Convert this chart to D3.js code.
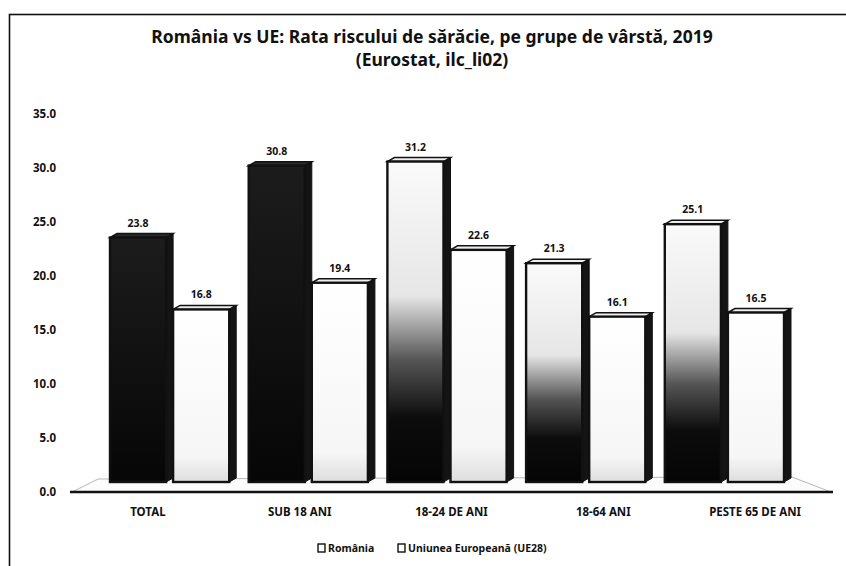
<html>
<meta charset="utf-8" />
<head>
<title>România vs UE: Rata riscului de sărăcie</title>
<script src="https://cdn.jsdelivr.net/npm/d3@7/dist/d3.min.js"></script>
<style>
	body { margin: 0; background: #fff; }
	text { font-family: "Noto Sans", sans-serif; font-weight: bold; fill: #111; }
</style>
<script>
const categories = ["TOTAL", "SUB 18 ANI", "18-24 DE ANI", "18-64 ANI", "PESTE 65 DE ANI"];
const romania = [23.8, 30.8, 31.2, 21.3, 25.1];
const ue28 = [16.8, 19.4, 22.6, 16.1, 16.5];
const seriesNames = ["România", "Uniunea Europeană (UE28)"];
const yTicks = [0, 5, 10, 15, 20, 25, 30, 35];

window.onload = function() {
	const svg = d3.select('svg');

	// rama graficului
	svg.append('rect')
		.attr('x', 9.5).attr('y', 14.5)
		.attr('width', 900).attr('height', 600)
		.style('fill', 'none').style('stroke', '#111').style('stroke-width', 1.6);

	// titlu
	svg.append('text').attr('x', 432).attr('y', 43).attr('text-anchor', 'middle')
		.style('font-size', '17.5px')
		.text('România vs UE: Rata riscului de sărăcie, pe grupe de vârstă, 2019');
	svg.append('text').attr('x', 432).attr('y', 66).attr('text-anchor', 'middle')
		.style('font-size', '17.5px')
		.text('(Eurostat, ilc_li02)');

	// scala axei (planul frontal) si scala barelor (perspectiva 3D)
	let yAxis = d3.scaleLinear().domain([0, 35]).range([492, 114]);
	let yBar = d3.scaleLinear().domain([0, 35]).range([482, 122.5]);
	let xLabel = d3.scaleBand().domain(categories).range([72, 831]);
	let xBar = d3.scaleBand().domain(categories).range([110, 791]).paddingInner(0.09).paddingOuter(0.0);
	let xSub = d3.scaleBand().domain([0, 1]).range([0, xBar.bandwidth()]);

	// gradienti
	let defs = svg.append('defs');
	let gDark = defs.append('linearGradient').attr('id', 'romDark').attr('x1', 0).attr('y1', 0).attr('x2', 0).attr('y2', 1);
	gDark.append('stop').attr('offset', '0%').attr('stop-color', '#1c1c1c');
	gDark.append('stop').attr('offset', '100%').attr('stop-color', '#060606');
	let gFade = defs.append('linearGradient').attr('id', 'romFade').attr('x1', 0).attr('y1', 0).attr('x2', 0).attr('y2', 1);
	gFade.append('stop').attr('offset', '0%').attr('stop-color', '#fafafa');
	gFade.append('stop').attr('offset', '42%').attr('stop-color', '#e6e6e6');
	gFade.append('stop').attr('offset', '62%').attr('stop-color', '#555');
	gFade.append('stop').attr('offset', '80%').attr('stop-color', '#0c0c0c');
	gFade.append('stop').attr('offset', '100%').attr('stop-color', '#050505');
	let gEu = defs.append('linearGradient').attr('id', 'euFill').attr('x1', 0).attr('y1', 0).attr('x2', 0).attr('y2', 1);
	gEu.append('stop').attr('offset', '0%').attr('stop-color', '#ffffff');
	gEu.append('stop').attr('offset', '85%').attr('stop-color', '#f6f6f6');
	gEu.append('stop').attr('offset', '100%').attr('stop-color', '#dedede');

	// podeaua 3D
	svg.append('polygon')
		.attr('points', [[72, 492], [831, 492], [792, 477], [98, 479]].join(' '))
		.style('fill', '#fcfcfc').style('stroke', '#999').style('stroke-width', 0.7);
	svg.append('line')
		.attr('x1', 70).attr('x2', 833).attr('y1', 492).attr('y2', 492)
		.style('stroke', '#111').style('stroke-width', 2.6);

	// etichete axa Y
	svg.selectAll('.ytick')
		.data(yTicks)
		.enter()
		.append('text')
		.attr('class', 'ytick')
		.attr('x', 56)
		.attr('y', function(d) { return yAxis(d); })
		.attr('dy', '0.35em')
		.attr('text-anchor', 'end')
		.style('font-size', '11.5px')
		.text(function(d) { return d3.format('.1f')(d); });

	// etichete categorii
	svg.selectAll('.xlab')
		.data(categories)
		.enter()
		.append('text')
		.attr('class', 'xlab')
		.attr('x', function(d) { return xLabel(d) + xLabel.bandwidth() / 2; })
		.attr('y', 516)
		.attr('text-anchor', 'middle')
		.style('font-size', '11.5px')
		.text(function(d) { return d; });

	// date pentru bare
	let bars = [];
	categories.forEach(function(c, i) {
		bars.push({ cat: c, i: i, s: 0, v: romania[i] });
	});
	categories.forEach(function(c, i) {
		bars.push({ cat: c, i: i, s: 1, v: ue28[i] });
	});

	const depth = 7, rise = 4;
	let bw = xSub.bandwidth();
	let fw = bw - depth;

	function frontFill(d) {
		if (d.s === 1) return 'url(#euFill)';
		return d.i < 2 ? 'url(#romDark)' : 'url(#romFade)';
	}

	let g = svg.selectAll('.bar')
		.data(bars)
		.enter()
		.append('g')
		.attr('class', 'bar')
		.attr('transform', function(d) { return 'translate(' + (xBar(d.cat) + xSub(d.s)) + ',0)'; });

	// fata laterala
	g.append('polygon')
		.attr('points', function(d) {
			let t = yBar(d.v), b = yBar(0);
			return [[fw, t], [fw + depth, t - rise], [fw + depth, b - rise], [fw, b]].join(' ');
		})
		.style('fill', '#141414').style('stroke', '#111').style('stroke-width', 1);

	// fata de sus
	g.append('polygon')
		.attr('points', function(d) {
			let t = yBar(d.v);
			return [[0, t], [depth, t - rise], [fw + depth, t - rise], [fw, t]].join(' ');
		})
		.style('fill', function(d) { return d.s === 0 && d.i < 2 ? '#2a2a2a' : '#eee'; })
		.style('stroke', '#111').style('stroke-width', 1.5);

	// fata din fata
	g.append('rect')
		.attr('x', 0)
		.attr('y', function(d) { return yBar(d.v); })
		.attr('width', fw)
		.attr('height', function(d) { return yBar(0) - yBar(d.v); })
		.style('fill', frontFill)
		.style('stroke', '#111')
		.style('stroke-width', 2.4);

	// valori
	g.append('text')
		.attr('x', fw / 2)
		.attr('y', function(d) { return yBar(d.v) - 11; })
		.attr('text-anchor', 'middle')
		.style('font-size', '10.5px')
		.text(function(d) { return d3.format('.1f')(d.v); });

	// legenda
	let legendX = [318, 398];
	let lg = svg.selectAll('.leg')
		.data(seriesNames)
		.enter()
		.append('g')
		.attr('class', 'leg')
		.attr('transform', function(d, i) { return 'translate(' + legendX[i] + ',548)'; });
	lg.append('rect')
		.attr('x', 0).attr('y', -4).attr('width', 7).attr('height', 8)
		.style('fill', '#fff').style('stroke', '#111').style('stroke-width', 1.4);
	lg.append('text')
		.attr('x', 10).attr('y', 0).attr('dy', '0.35em')
		.style('font-size', '10.5px')
		.text(function(d) { return d; });
};
</script>
</head>
<body>
	<svg style="width:846px;height:566px;display:block;"></svg>
</body>
</html>
